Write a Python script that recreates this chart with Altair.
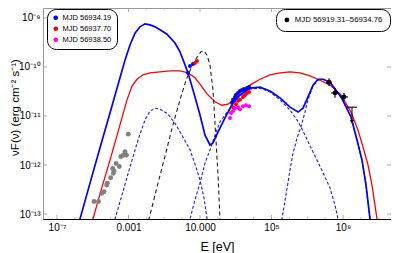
import altair as alt
import pandas as pd

# ---------------- axis ranges (log10 units) ----------------
X_MIN, X_MAX = -7.783, 11.685
Y_MIN, Y_MAX = -13.102, -8.796

# ---------------- model curves (log10 E [eV], log10 nuF_nu) ----------------
blue_total_logE = [-5.937, -5.713, -5.154, -4.594, -4.035, -3.476, -3.196, -2.916, -2.636, -2.357,
                   -2.077, -1.797, -1.518, -1.238, -0.846, -0.399, -0.119, 0.329, 0.720, 1.000,
                   1.280, 1.559, 1.727, 2.007, 2.399, 2.846, 3.238, 3.797, 4.357, 4.916,
                   5.476, 6.035, 6.483, 6.762, 7.042, 7.322, 7.601, 7.881, 8.273, 8.888,
                   9.448, 9.783, 10.063, 10.287, 10.510, 10.622]
blue_total_logF = [-13.43, -13.10, -12.37, -11.65, -10.94, -10.22, -9.86, -9.55, -9.31, -9.18,
                   -9.12, -9.14, -9.18, -9.24, -9.33, -9.51, -9.69, -10.12, -10.61, -10.98,
                   -11.39, -11.59, -11.55, -11.33, -11.04, -10.73, -10.57, -10.43, -10.41, -10.49,
                   -10.63, -10.82, -10.92, -10.84, -10.61, -10.37, -10.25, -10.25, -10.31, -10.61,
                   -11.02, -11.49, -11.90, -12.41, -13.10, -13.53]

red_total_logE = [-5.098, -4.986, -4.594, -4.035, -3.476, -3.084, -2.804, -2.525, -2.189, -1.797,
                  -1.238, -0.678, -0.119, 0.329, 0.720, 1.000, 1.392, 1.839, 2.231, 2.566,
                  2.958, 3.238, 3.797, 4.357, 4.916, 5.476, 6.035, 6.594, 7.154, 7.713,
                  8.273, 8.888, 9.448, 9.839, 10.119, 10.399, 10.622, 10.902, 11.014]
red_total_logF = [-13.27, -13.10, -12.59, -11.90, -11.18, -10.67, -10.39, -10.25, -10.16, -10.12,
                  -10.10, -10.08, -10.08, -10.12, -10.22, -10.35, -10.55, -10.71, -10.78, -10.76,
                  -10.65, -10.57, -10.37, -10.25, -10.16, -10.12, -10.10, -10.12, -10.18, -10.27,
                  -10.37, -10.57, -10.92, -11.29, -11.63, -12.00, -12.41, -13.10, -13.43]

disk_logE = [-1.965, -1.853, -1.350, -0.958, -0.566, -0.119, 0.217, 0.552, 0.832, 1.056,
             1.224, 1.392, 1.559, 1.727, 1.895, 2.007, 2.119, 2.175]
disk_logF = [-13.27, -13.10, -12.37, -11.82, -11.25, -10.67, -10.27, -9.98, -9.80, -9.69,
             -9.67, -9.76, -9.96, -10.47, -11.49, -12.20, -13.10, -13.43]

sync2_logE = [-3.867, -3.755, -3.364, -2.916, -2.469, -2.077, -1.797, -1.518, -1.238, -0.790,
              -0.343, 0.049, 0.441, 0.776, 1.000, 1.224, 1.392, 1.447]
sync2_logF = [-13.31, -13.10, -12.61, -12.04, -11.49, -11.08, -10.90, -10.84, -10.86, -10.96,
              -11.18, -11.43, -11.69, -12.04, -12.31, -12.67, -13.10, -13.29]

ssc1_logE = [0.329, 0.441, 0.720, 1.000, 1.280, 1.559, 1.839, 2.119, 2.399, 2.846,
             3.238, 3.797, 4.357, 4.916, 5.476, 6.035, 6.427, 6.650, 7.154, 7.545,
             7.937, 8.273, 8.552, 8.720, 8.776]
ssc1_logF = [-13.29, -13.10, -12.71, -12.37, -11.96, -11.69, -11.39, -11.12, -10.98, -10.76,
             -10.59, -10.45, -10.43, -10.51, -10.67, -10.88, -11.08, -11.22, -11.61, -11.90,
             -12.20, -12.47, -12.82, -13.10, -13.29]

ec2_logE = [5.476, 5.587, 5.811, 6.035, 6.203, 6.427, 6.650, 6.874, 7.042, 7.322,
            7.601, 7.881, 8.273, 8.888, 9.448, 9.783, 10.063, 10.287, 10.510, 10.622]
ec2_logF = [-13.33, -13.10, -12.61, -12.10, -11.76, -11.45, -11.22, -10.92, -10.67, -10.39,
            -10.27, -10.25, -10.31, -10.61, -11.02, -11.49, -11.90, -12.41, -13.10, -13.53]

# ---------------- observations ----------------
gray_logE = [-4.930, -4.678, -4.499, -4.371, -4.220, -4.186, -3.996, -3.850, -3.811, -3.699,
             -3.515, -3.884, -3.436, -3.291, -3.196, -3.112, -3.011]
gray_logF = [-12.745, -12.745, -12.58, -12.545, -12.41, -12.37, -12.26, -12.17, -12.12, -11.97,
             -12.03, -12.07, -11.83, -11.80, -11.73, -11.80, -11.37]

obs_labels = ["MJD 56934.19", "MJD 56937.70", "MJD 56938.50"]
obs_colors = ["#0000ff", "#ff0000", "#ff00ff"]

blue_obs_logE = [0.329, 0.441, 0.608, 2.790, 2.846, 2.958, 3.014, 3.126, 3.238, 3.350, 3.462, 3.518, 3.629, 3.741]
blue_obs_logF = [-10.12, -9.98, -9.94, -10.73, -10.67, -10.61, -10.57, -10.53, -10.49, -10.47, -10.45, -10.47, -10.43, -10.41]

red_obs_logE = [0.720, 0.832, 2.846, 3.014, 3.126, 3.238, 3.406, 3.518, 3.629, 3.741]
red_obs_logF = [-9.92, -9.88, -10.82, -10.76, -10.69, -10.67, -10.61, -10.57, -10.53, -10.51]

mag_obs_logE = [2.678, 2.734, 2.846, 2.958, 3.126, 3.238, 3.406, 3.573, 3.741]
mag_obs_logF = [-11.04, -10.94, -10.90, -10.84, -10.82, -10.86, -10.80, -10.78, -10.80]

fermi_label = "MJD 56919.31\u201356934.76"
fermi_logE = [8.217, 8.552, 9.056]
fermi_logF = [-10.31, -10.53, -10.61]
fermi_E_lo = [8.05, 8.33, 8.84]
fermi_E_hi = [8.39, 8.77, 9.28]
fermi_F_lo = [-10.39, -10.63, -10.69]
fermi_F_hi = [-10.23, -10.43, -10.53]

ul_logE = [9.504]
ul_logF = [-10.82]
ul_E_lo = [9.22]
ul_E_hi = [9.78]
ul_arrow_tip = [-11.12]

x_major = [-7, -3, 1, 5, 9]
x_minor = [-6, -5, -4, -2, -1, 0, 2, 3, 4, 6, 7, 8, 10, 11]
y_major = [-13, -12, -11, -10, -9]

FONT = "Liberation Sans"
W, H = 348, 211

x_axis = alt.Axis(values=x_major, ticks=False, grid=False, domain=True, domainColor="black",
                  domainWidth=1.2, labelFont=FONT, labelFontSize=10, labelColor="black",
                  labelPadding=3, labelFlush=False,
                  labelExpr="datum.value == -7 ? '10\u207b\u2077' : datum.value == -3 ? '0.001' : "
                            "datum.value == 1 ? '10.000' : datum.value == 5 ? '10\u2075' : '10\u2079'",
                  title="E [eV]", titleFont=FONT, titleFontSize=12.5, titleFontWeight="normal",
                  titleColor="black", titleY=31, titleBaseline="alphabetic")
y_axis = alt.Axis(values=y_major, ticks=False, grid=False, domain=False,
                  labelFont=FONT, labelFontSize=10, labelColor="black", labelPadding=3,
                  labelFlush=False,
                  labelExpr="'10' + (datum.value == -9 ? '\u207b\u2079' : datum.value == -10 ? '\u207b\u00b9\u2070' : "
                            "datum.value == -11 ? '\u207b\u00b9\u00b9' : datum.value == -12 ? '\u207b\u00b9\u00b2' : '\u207b\u00b9\u00b3')",
                  title="\u03bdF(\u03bd) (erg cm\u207b\u00b2 s\u207b\u00b9)", titleFont=FONT,
                  titleFontSize=11.5, titleFontWeight="normal", titleColor="black",
                  titleX=-25, titleY=99, titleAngle=270, titleBaseline="alphabetic")

x_scale = alt.Scale(domain=[X_MIN, X_MAX], nice=False, zero=False)
y_scale = alt.Scale(domain=[Y_MIN, Y_MAX], nice=False, zero=False)
x_enc = alt.X("logE:Q", scale=x_scale, axis=x_axis)
y_enc = alt.Y("logF:Q", scale=y_scale, axis=y_axis)


def line_df(xs, ys):
    return pd.DataFrame({"logE": xs, "logF": ys})


def curve(xs, ys, color, width, dash=None):
    kw = dict(color=color, strokeWidth=width, clip=True)
    if dash:
        kw["strokeDash"] = dash
    return alt.Chart(line_df(xs, ys)).mark_line(**kw).encode(x=x_enc, y=y_enc)


layers = []
# frame ticks
tick_col = "#999999"
layers.append(alt.Chart(pd.DataFrame({"logE": x_major})).mark_rule(color=tick_col, strokeWidth=0.8)
              .encode(x=x_enc, y=alt.value(H), y2=alt.value(H - 4)))
layers.append(alt.Chart(pd.DataFrame({"logE": x_minor})).mark_rule(color=tick_col, strokeWidth=0.6)
              .encode(x=x_enc, y=alt.value(H), y2=alt.value(H - 2)))
layers.append(alt.Chart(pd.DataFrame({"logE": x_major})).mark_rule(color=tick_col, strokeWidth=0.8)
              .encode(x=x_enc, y=alt.value(0), y2=alt.value(4)))
layers.append(alt.Chart(pd.DataFrame({"logE": x_minor})).mark_rule(color=tick_col, strokeWidth=0.6)
              .encode(x=x_enc, y=alt.value(0), y2=alt.value(2)))
layers.append(alt.Chart(pd.DataFrame({"logF": y_major})).mark_rule(color=tick_col, strokeWidth=0.8)
              .encode(y=y_enc, x=alt.value(0), x2=alt.value(4)))
layers.append(alt.Chart(pd.DataFrame({"logF": y_major})).mark_rule(color=tick_col, strokeWidth=0.8)
              .encode(y=y_enc, x=alt.value(W), x2=alt.value(W - 4)))

# model curves
layers.append(curve(sync2_logE, sync2_logF, "#1a1aff", 1.1, [3, 2]))
layers.append(curve(ssc1_logE, ssc1_logF, "#1a1aff", 1.1, [3, 2]))
layers.append(curve(ec2_logE, ec2_logF, "#1a1aff", 1.1, [3, 2]))
layers.append(curve(red_total_logE, red_total_logF, "#ff0000", 1.3))
layers.append(curve(blue_total_logE, blue_total_logF, "#0000ff", 1.7))
layers.append(curve(disk_logE, disk_logF, "#222222", 1.1, [4, 3]))

# gray archival points
layers.append(alt.Chart(line_df(gray_logE, gray_logF)).mark_circle(color="#808080", size=24, opacity=1)
              .encode(x=x_enc, y=y_enc))

# coloured observations with legend
obs_df = pd.concat([
    pd.DataFrame({"logE": blue_obs_logE, "logF": blue_obs_logF, "obs": obs_labels[0]}),
    pd.DataFrame({"logE": red_obs_logE, "logF": red_obs_logF, "obs": obs_labels[1]}),
    pd.DataFrame({"logE": mag_obs_logE, "logF": mag_obs_logF, "obs": obs_labels[2]}),
], ignore_index=True)
legend1 = alt.Legend(title=None, orient="none", legendX=4, legendY=1, strokeColor="black",
                     fillColor="white", cornerRadius=9, padding=5, labelFont=FONT,
                     labelFontSize=7.5, labelColor="black", symbolSize=22, symbolType="circle",
                     rowPadding=2, labelOffset=3, symbolStrokeWidth=0)
layers.append(alt.Chart(obs_df).mark_circle(size=16, opacity=1).encode(
    x=x_enc, y=y_enc,
    color=alt.Color("obs:N", scale=alt.Scale(domain=obs_labels, range=obs_colors), legend=legend1)))

# Fermi points with error bars
vbar = pd.DataFrame({"logE": fermi_logE, "logF": fermi_F_lo, "logF2": fermi_F_hi})
hbar = pd.DataFrame({"logE": fermi_E_lo + ul_E_lo, "logE2": fermi_E_hi + ul_E_hi, "logF": fermi_logF + ul_logF})
layers.append(alt.Chart(vbar).mark_rule(color="black", strokeWidth=1.1).encode(x=x_enc, y=y_enc, y2="logF2:Q"))
layers.append(alt.Chart(hbar).mark_rule(color="black", strokeWidth=1.1).encode(x=x_enc, x2="logE2:Q", y=y_enc))
ul_stem = pd.DataFrame({"logE": ul_logE, "logF": ul_logF, "logF2": ul_arrow_tip})
layers.append(alt.Chart(ul_stem).mark_rule(color="black", strokeWidth=1).encode(x=x_enc, y=y_enc, y2="logF2:Q"))
layers.append(alt.Chart(line_df(ul_logE, ul_arrow_tip)).mark_point(shape="triangle-down", filled=True,
              color="black", size=18, opacity=1).encode(x=x_enc, y=y_enc))

fermi_df = pd.DataFrame({"logE": fermi_logE, "logF": fermi_logF, "src": fermi_label})
legend2 = alt.Legend(title=None, orient="none", legendX=233, legendY=1, strokeColor="black",
                     fillColor="white", cornerRadius=9, padding=7, labelFont=FONT,
                     labelFontSize=7.8, labelColor="black", symbolSize=22, symbolType="circle",
                     labelOffset=4, symbolStrokeWidth=0)
layers.append(alt.Chart(fermi_df).mark_circle(size=22, opacity=1).encode(
    x=x_enc, y=y_enc,
    color=alt.Color("src:N", scale=alt.Scale(domain=[fermi_label], range=["black"]), legend=legend2)))

chart = (alt.layer(*layers)
         .resolve_scale(color="independent")
         .properties(width=W, height=H, autosize=alt.AutoSizeParams(type="none"),
                     padding={"left": 35, "top": 0, "right": 0, "bottom": 36})
         .configure(font=FONT)
         .configure_view(stroke="#999999", strokeWidth=1))

chart.save("out.html", embed_options={"renderer": "svg", "actions": False})
